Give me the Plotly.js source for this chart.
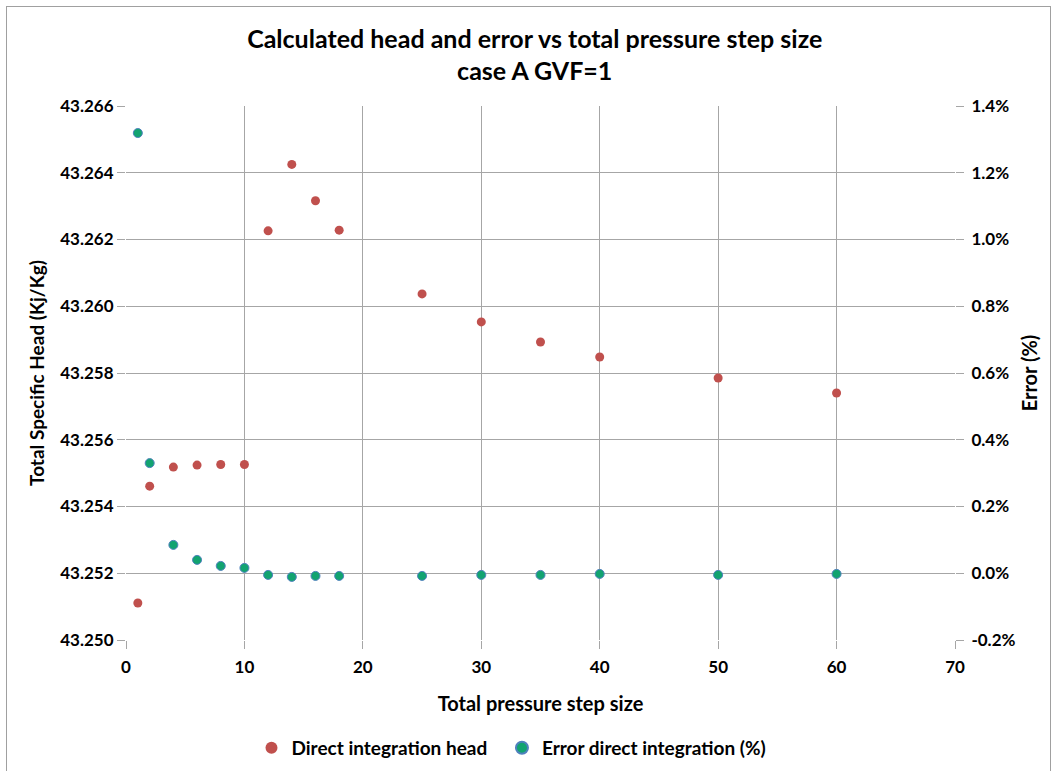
<!DOCTYPE html>
<html>
<head>
<meta charset="utf-8">
<script src="https://cdn.plot.ly/plotly-3.0.1.min.js"></script>
<style>
html,body{margin:0;padding:0;background:#fff;}
#wrap{position:absolute;left:0;top:0;width:1053px;height:771px;}
#frame{position:absolute;left:6px;top:6px;width:1043px;height:800px;border:1px solid #A0A0A0;pointer-events:none;}
#chart{position:absolute;left:0;top:0;width:1053px;height:771px;}
</style>
</head>
<body>
<div id="wrap"><div id="chart"></div><div id="frame"></div></div>
<script>
const stepSize = [1, 2, 4, 6, 8, 10, 12, 14, 16, 18, 25, 30, 35, 40, 50, 60];
const headValues = [43.25111, 43.25461, 43.25518, 43.25524, 43.25526, 43.25526, 43.26226, 43.26425, 43.26316, 43.26228, 43.26037, 43.25953, 43.25893, 43.25848, 43.25785, 43.25740];
const errorPct = [1.319, 0.330, 0.085, 0.040, 0.022, 0.016, -0.005, -0.011, -0.008, -0.008, -0.008, -0.005, -0.005, -0.002, -0.005, -0.002];
const leftTicks = [43.250, 43.252, 43.254, 43.256, 43.258, 43.260, 43.262, 43.264, 43.266];
const rightTicks = [-0.2, 0.0, 0.2, 0.4, 0.6, 0.8, 1.0, 1.2, 1.4];
const xTicks = [0, 10, 20, 30, 40, 50, 60, 70];

const FONT = 'Lato, "Open Sans", sans-serif';
const GRID = '#A6A6A6';
const b = s => '<b>' + s + '</b>';

const traces = [
  {
    x: stepSize, y: headValues, name: b('Direct integration head') + '&nbsp;&nbsp;',
    type: 'scatter', mode: 'markers', yaxis: 'y',
    marker: {color: '#C0504D', size: 9, line: {width: 0}}
  },
  {
    x: stepSize, y: errorPct, name: b('Error direct integration (%)'),
    type: 'scatter', mode: 'markers', yaxis: 'y2',
    marker: {color: '#12A370', size: 9, line: {width: 1, color: '#4F81BD'}}
  }
];

const axisCommon = {
  showgrid: true, gridcolor: GRID, gridwidth: 1,
  zeroline: false, showline: false, automargin: false,
  ticks: 'outside', ticklen: 8, tickcolor: GRID, tickwidth: 1,
  tickfont: {family: FONT, size: 17, color: '#000'}
};

const layout = {
  width: 1053, height: 771,
  paper_bgcolor: '#fff', plot_bgcolor: '#fff',
  margin: {l: 126, r: 98, t: 106, b: 131},
  font: {family: FONT, color: '#000'},
  title: {
    text: b('Calculated head and error vs total pressure step size') + '<br>' + b('case A GVF=1'),
    font: {family: FONT, size: 25, color: '#000'},
    x: 0.493, xanchor: 'center', xref: 'paper',
    y: 0.938, yanchor: 'middle', yref: 'container', automargin: false
  },
  xaxis: Object.assign({}, axisCommon, {
    range: [0, 70], tickvals: xTicks, ticktext: xTicks.map(v => b(String(v))),
    ticklabelstandoff: 4,
    title: {text: b('Total pressure step size'), font: {family: FONT, size: 20, color: '#000'}, standoff: 20}
  }),
  yaxis: Object.assign({}, axisCommon, {
    range: [43.250, 43.266], tickvals: leftTicks, ticktext: leftTicks.map(v => b(v.toFixed(3))),
    title: {text: b('Total Specific Head (Kj/Kg)'), font: {family: FONT, size: 19, color: '#000'}, standoff: 10}
  }),
  yaxis2: Object.assign({}, axisCommon, {
    overlaying: 'y', side: 'right', showgrid: false,
    range: [-0.2, 1.4], tickvals: rightTicks, ticktext: rightTicks.map(v => b(v.toFixed(1) + '%')),
    ticklabelstandoff: 4,
    title: {text: b('Error (%)'), font: {family: FONT, size: 20, color: '#000'}, standoff: 8}
  }),
  showlegend: true,
  legend: {
    orientation: 'h', x: 0.465, xanchor: 'center', xref: 'paper',
    y: 0.03, yanchor: 'middle', yref: 'container',
    font: {family: FONT, size: 19, color: '#000'},
    itemsizing: 'constant', itemwidth: 30, bgcolor: 'rgba(0,0,0,0)'
  }
};

Plotly.newPlot('chart', traces, layout, {displayModeBar: false, staticPlot: true});
</script>
</body>
</html>
